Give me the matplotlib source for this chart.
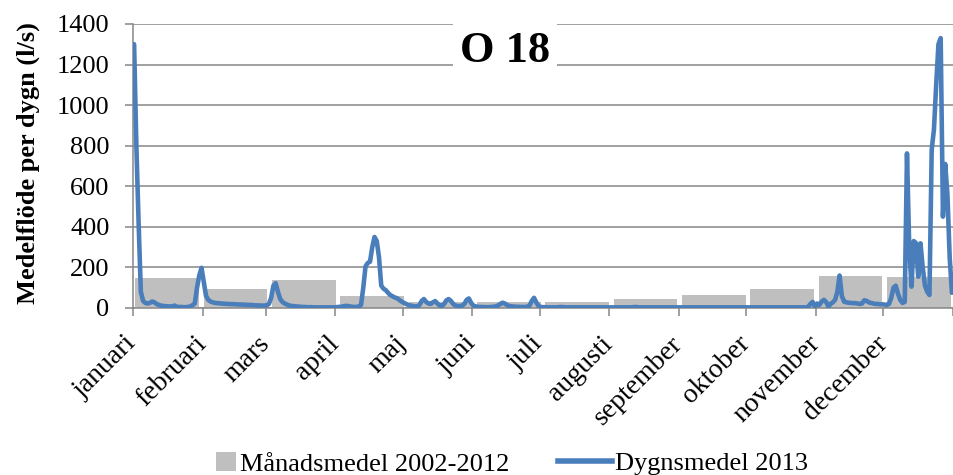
import numpy as np
import matplotlib
matplotlib.use('Agg')
import matplotlib.pyplot as plt
from matplotlib.patches import Patch
from matplotlib.lines import Line2D

#Data for the chart
meses = ['januari', 'februari', 'mars', 'april', 'maj', 'juni', 'juli',
         'augusti', 'september', 'oktober', 'november', 'december']
dias_mes = [31, 28, 31, 30, 31, 30, 31, 31, 30, 31, 30, 31]

#Monthly mean 2002-2012 (l/s)
manadsmedel = [150, 96, 140, 57, 30, 31, 28, 42, 63, 92, 160, 153]

#Daily mean 2013 (l/s), one list per month
jan = [1300, 800, 420, 80, 35, 25, 22, 25, 32, 28, 20, 15, 12, 10, 9, 8,
       8, 7, 12, 6, 5, 5, 4, 4, 5, 8, 14, 22, 100, 160, 198]
feb = [130, 60, 40, 32, 28, 25, 24, 23, 22, 21, 20, 20, 19, 19, 18, 18,
       17, 17, 16, 16, 15, 15, 14, 13, 13, 12, 12, 12]
mar = [13, 20, 50, 110, 122, 80, 45, 30, 22, 17, 13, 10, 9, 8, 7, 6,
       5, 5, 4, 4, 4, 3, 3, 3, 3, 3, 3, 3, 3, 3, 3]
apr = [4, 5, 6, 8, 10, 10, 8, 6, 5, 5, 8, 15, 100, 205, 222, 228,
       300, 350, 330, 250, 110, 95, 88, 75, 64, 58, 52, 48, 40, 32]
maj = [26, 20, 15, 12, 10, 8, 7, 15, 35, 44, 30, 22, 20, 28, 34, 22,
       12, 10, 20, 38, 44, 35, 20, 12, 10, 9, 12, 20, 40, 47, 25]
jun = [12, 8, 6, 5, 5, 4, 4, 4, 5, 6, 8, 12, 20, 26, 22, 14,
       10, 8, 7, 6, 6, 5, 5, 5, 6, 12, 35, 50, 28, 10]
jul = [5, 4, 4, 3, 3, 3, 3, 3, 4, 5, 4, 3, 3, 3, 3, 3,
       3, 3, 3, 3, 3, 3, 3, 3, 3, 3, 3, 3, 3, 3, 3]
aug = [3, 3, 3, 3, 3, 3, 3, 3, 3, 3, 4, 5, 4, 3, 3, 3,
       3, 3, 3, 3, 3, 3, 3, 3, 3, 3, 3, 3, 3, 3, 3]
sep = [3, 3, 3, 3, 3, 3, 3, 3, 3, 3, 3, 3, 3, 3, 3, 3,
       3, 3, 3, 3, 3, 3, 3, 3, 3, 3, 3, 3, 3, 3]
okt = [3, 3, 3, 3, 3, 3, 3, 3, 3, 3, 3, 3, 3, 3, 3, 3,
       3, 3, 3, 3, 3, 3, 3, 3, 3, 3, 3, 5, 20, 30, 8]
nov = [22, 15, 31, 40, 30, 7, 20, 28, 40, 80, 160, 60, 31, 28, 26, 25,
       24, 24, 22, 20, 22, 38, 35, 28, 25, 22, 20, 20, 18, 18]
dec = [17, 15, 20, 50, 100, 110, 70, 40, 25, 30, 762, 300, 105, 330, 320, 154,
       319, 200, 110, 80, 64, 780, 880, 1100, 1300, 1330, 450, 710, 560, 250, 75]

dygnsmedel = jan + feb + mar + apr + maj + jun + jul + aug + sep + okt + nov + dec

titulo = 'O 18'
ylabel = 'Medelflöde per dygn (l/s)'
leyenda_barras = 'Månadsmedel 2002-2012'
leyenda_linea = 'Dygnsmedel 2013'

#Colors
c_linea = '#4a7ebb'
c_barra = '#bfbfbf'
c_grid = '#868686'

serif = ['Liberation Serif', 'DejaVu Serif']
plt.rcParams['font.family'] = serif

fig = plt.figure(figsize=(9.54, 4.75), dpi=100)
ax = fig.add_axes([0.1394, 0.3516, 0.8596, 0.598])

#Bars: one per month, spread evenly over the year
n_dias = len(dygnsmedel)
ancho_mes = n_dias / 12
centros = (np.arange(12) + 0.5) * ancho_mes
ax.bar(centros, manadsmedel, width=ancho_mes * 0.935, color=c_barra, zorder=2)

#Daily line
x_dias = np.arange(n_dias) + 0.5
ax.plot(x_dias, dygnsmedel, color=c_linea, linewidth=3.3, zorder=3,
        solid_joinstyle='round', solid_capstyle='round')

ax.set_xlim(0, n_dias)
ax.set_ylim(0, 1400)
ax.set_yticks(np.arange(0, 1401, 200))
ax.yaxis.grid(True, color=c_grid, linewidth=1.1)
ax.set_axisbelow(True)

#Month ticks at the first day of each month
inicio_mes = np.concatenate([[0], np.cumsum(dias_mes)])
ax.set_xticks(inicio_mes)
ax.set_xticklabels(meses + [''], rotation=45, ha='right', va='center',
                   rotation_mode='anchor', fontsize=20)
ax.tick_params(axis='x', length=6, width=1.1, color=c_grid, pad=17)
ax.tick_params(axis='y', length=6, width=1.1, color=c_grid, labelsize=19, pad=11)

for s in ['top', 'right']:
    ax.spines[s].set_visible(False)
for s in ['left', 'bottom']:
    ax.spines[s].set_color(c_grid)
    ax.spines[s].set_linewidth(1.1)

ax.set_ylabel(ylabel, fontsize=19, fontweight='bold')
ax.yaxis.set_label_coords(-0.113, 0.51)

#Title inside the plot with a white box
ax.text(0.454, 0.905, titulo, transform=ax.transAxes, ha='center', va='center',
        fontsize=32, fontweight='bold', zorder=5,
        bbox=dict(facecolor='white', edgecolor='none', pad=5))

#Legend at the bottom
h1 = Patch(facecolor=c_barra, edgecolor='none')
h2 = Line2D([0], [0], color=c_linea, linewidth=4)
fig.legend([h1], [leyenda_barras], loc='center left', bbox_to_anchor=(216 / 954, 0.024),
           frameon=False, fontsize=19, handlelength=0.76, handleheight=0.76,
           handletextpad=0.15, borderpad=0, borderaxespad=0)
fig.legend([h2], [leyenda_linea], loc='center left', bbox_to_anchor=(558 / 954, 0.024),
           frameon=False, fontsize=19, handlelength=2.05,
           handletextpad=0.12, borderpad=0, borderaxespad=0)

fig.savefig('out.png', dpi=100)
